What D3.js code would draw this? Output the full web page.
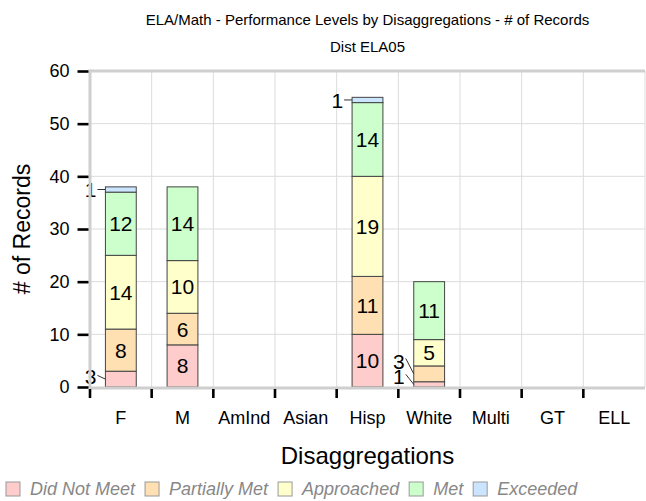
<!DOCTYPE html>
<html>
<head>
<meta charset="utf-8">
<script src="https://cdn.jsdelivr.net/npm/d3@7"></script>
<style>
  body { margin: 0; background: #fff; }
  text { font-family: Arial, "Liberation Sans", sans-serif; }
</style>
</head>
<body>
<div id="chart"></div>
<script>
// chart values
var categories = ["F", "M", "AmInd", "Asian", "Hisp", "White", "Multi", "GT", "ELL"];
var levels = ["Did Not Meet", "Partially Met", "Approached", "Met", "Exceeded"];
var didNotMeet   = [3, 8, 0, 0, 10, 1, 0, 0, 0];
var partiallyMet = [8, 6, 0, 0, 11, 3, 0, 0, 0];
var approached   = [14, 10, 0, 0, 19, 5, 0, 0, 0];
var met          = [12, 14, 0, 0, 14, 11, 0, 0, 0];
var exceeded     = [1, 0, 0, 0, 1, 0, 0, 0, 0];
var yTicks = [0, 10, 20, 30, 40, 50, 60];
var colors = ["#ffcccc", "#ffe0b3", "#ffffcc", "#ccffcc", "#cce5ff"];

// build rows for the stack
var series = [didNotMeet, partiallyMet, approached, met, exceeded];
var rows = categories.map(function(c, i) {
  var r = {cat: c};
  levels.forEach(function(l, j) { r[l] = series[j][i]; });
  return r;
});

var W = 646, H = 501;
var pLeft = 90, pRight = 645, pTop = 71, pBottom = 387;

var svg = d3.select("#chart").append("svg")
  .attr("width", W)
  .attr("height", H);

var x = d3.scaleBand()
  .domain(categories)
  .range([pLeft, pRight]);

var y = d3.scaleLinear()
  .domain([0, 60])
  .range([pBottom, pTop]);

var barW = x.bandwidth() * 0.5;

// grid
svg.append("g").selectAll("line")
  .data(yTicks.filter(function(d) { return d > 0 && d < 60; }))
  .enter().append("line")
  .attr("x1", pLeft).attr("x2", pRight)
  .attr("y1", function(d) { return y(d); })
  .attr("y2", function(d) { return y(d); })
  .attr("stroke", "#dcdcdc").attr("stroke-width", 1);

svg.append("g").selectAll("line")
  .data(categories.slice(1))
  .enter().append("line")
  .attr("x1", function(d) { return x(d); })
  .attr("x2", function(d) { return x(d); })
  .attr("y1", pTop).attr("y2", pBottom)
  .attr("stroke", "#dcdcdc").attr("stroke-width", 1);

svg.append("line")
  .attr("x1", pRight).attr("x2", pRight)
  .attr("y1", pTop).attr("y2", pBottom)
  .attr("stroke", "#dcdcdc").attr("stroke-width", 1);

svg.append("line")
  .attr("x1", pLeft).attr("x2", pRight)
  .attr("y1", y(60)).attr("y2", y(60))
  .attr("stroke", "#cfcfcf").attr("stroke-width", 3);

// stacked bars
var stack = d3.stack().keys(levels)(rows);

var layers = svg.append("g").selectAll("g")
  .data(stack)
  .enter().append("g")
  .attr("fill", function(d, i) { return colors[i]; });

layers.selectAll("rect")
  .data(function(d) { return d.filter(function(s) { return s[1] > s[0]; }); })
  .enter().append("rect")
  .attr("x", function(d) { return x(d.data.cat) + (x.bandwidth() - barW) / 2; })
  .attr("y", function(d) { return y(d[1]); })
  .attr("width", barW)
  .attr("height", function(d) { return y(d[0]) - y(d[1]); })
  .attr("stroke", "#444")
  .attr("stroke-width", 1);

// value labels
var labels = svg.append("g");
categories.forEach(function(c) {
  var bx = x(c) + (x.bandwidth() - barW) / 2;
  var lastY = 1000;
  stack.forEach(function(layer) {
    var s = layer.find(function(d) { return d.data.cat == c; });
    var v = s[1] - s[0];
    if (v <= 0) return;
    var mid = y((s[0] + s[1]) / 2);
    if (v >= 4) {
      labels.append("text")
        .attr("x", bx + barW / 2)
        .attr("y", mid)
        .attr("dy", "0.36em")
        .attr("text-anchor", "middle")
        .attr("font-size", 21)
        .text(v);
    } else {
      var ly = Math.min(mid, 376, lastY - 15);
      lastY = ly;
      labels.append("line")
        .attr("x1", bx - 8).attr("y1", ly - (mid - ly) * 0.2)
        .attr("x2", bx).attr("y2", mid)
        .attr("stroke", "#333").attr("stroke-width", 1);
      labels.append("text")
        .attr("x", bx - 9)
        .attr("y", ly)
        .attr("dy", "0.36em")
        .attr("text-anchor", "end")
        .attr("font-size", 21)
        .text(v);
    }
  });
});

// axes lines
svg.append("line")
  .attr("x1", pLeft).attr("x2", pLeft)
  .attr("y1", pTop - 1.5).attr("y2", pBottom + 1.5)
  .attr("stroke", "#cfcfcf").attr("stroke-width", 3);
svg.append("line")
  .attr("x1", pLeft).attr("x2", pRight)
  .attr("y1", pBottom + 1).attr("y2", pBottom + 1)
  .attr("stroke", "#cfcfcf").attr("stroke-width", 3);

// y axis
var yAxis = svg.append("g")
  .attr("transform", "translate(" + (pLeft - 1.5) + ",0)")
  .call(d3.axisLeft(y).tickValues(yTicks).tickSize(11).tickPadding(8));
yAxis.select(".domain").remove();
yAxis.selectAll(".tick line").attr("stroke", "#000").attr("stroke-width", 2.6);
yAxis.selectAll(".tick text").attr("font-size", 18).attr("fill", "#000")
  .style("font-family", "Arial, 'Liberation Sans', sans-serif");

// x axis ticks at band edges
svg.append("g").selectAll("line")
  .data(categories)
  .enter().append("line")
  .attr("x1", function(d) { return x(d); })
  .attr("x2", function(d) { return x(d); })
  .attr("y1", pBottom + 2).attr("y2", pBottom + 11)
  .attr("stroke", "#000").attr("stroke-width", 2.6);

var xAxis = svg.append("g")
  .attr("transform", "translate(0," + pBottom + ")")
  .call(d3.axisBottom(x).tickSize(0).tickPadding(24));
xAxis.select(".domain").remove();
xAxis.selectAll(".tick text").attr("font-size", 18).attr("fill", "#000")
  .style("font-family", "Arial, 'Liberation Sans', sans-serif");

// titles
var cx = (pLeft + pRight) / 2;
svg.append("text").attr("x", cx).attr("y", 20).attr("dy", "0.35em")
  .attr("text-anchor", "middle").attr("font-size", 15)
  .text("ELA/Math - Performance Levels by Disaggregations - # of Records");
svg.append("text").attr("x", cx).attr("y", 47).attr("dy", "0.35em")
  .attr("text-anchor", "middle").attr("font-size", 15)
  .text("Dist ELA05");
svg.append("text").attr("x", cx).attr("y", 456).attr("dy", "0.35em")
  .attr("text-anchor", "middle").attr("font-size", 24)
  .text("Disaggregations");
svg.append("text")
  .attr("transform", "translate(22," + ((pTop + pBottom) / 2) + ") rotate(-90)")
  .attr("dy", "0.35em")
  .attr("text-anchor", "middle").attr("font-size", 23)
  .text("# of Records");

// legend
var legend = svg.append("g").attr("transform", "translate(6,489)");
var lx = 0;
levels.forEach(function(l, i) {
  var g = legend.append("g").attr("transform", "translate(" + lx + ",0)");
  g.append("rect")
    .attr("x", 0).attr("y", -7).attr("width", 14).attr("height", 14)
    .attr("fill", colors[i]).attr("stroke", "#999");
  var t = g.append("text")
    .attr("x", 24).attr("dy", "0.35em")
    .attr("font-size", 18).attr("font-style", "italic").attr("fill", "#888")
    .text(l);
  lx += 24 + t.node().getComputedTextLength() + 10;
});
</script>
</body>
</html>
